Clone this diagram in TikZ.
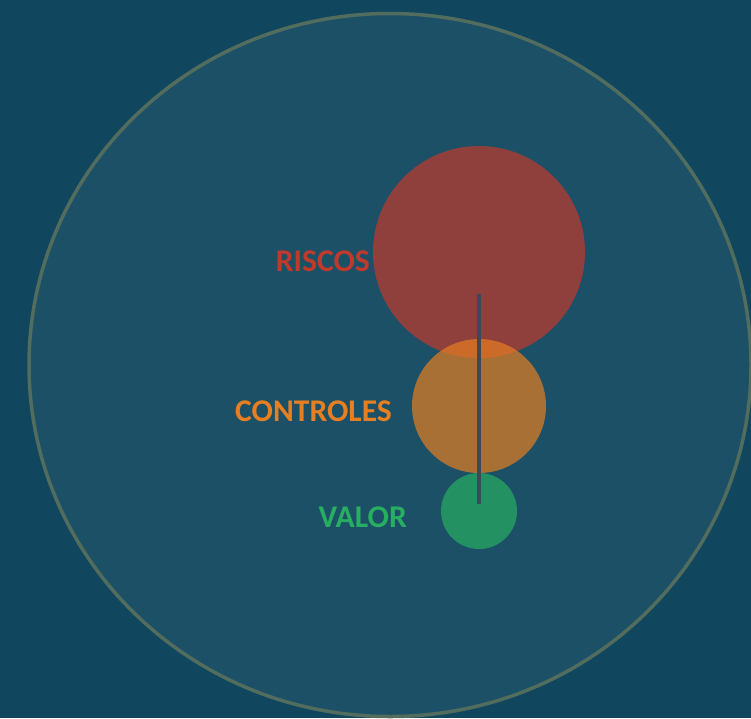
\documentclass[tikz,border=0pt]{standalone}
\usepackage{fontspec}
\setmainfont{Carlito}
\usepackage{xcolor}
\usepackage{tikz}
\usetikzlibrary{shapes.geometric}

\definecolor{bgblue}{HTML}{10475F}
\definecolor{rimgreen}{HTML}{526C5E}
\definecolor{riskred}{HTML}{C0392B}
\definecolor{ctrlorange}{HTML}{E67E22}
\definecolor{valgreen}{HTML}{27AE60}
\definecolor{stemgray}{HTML}{3B4A5A}

\begin{document}
\begin{tikzpicture}[x=1pt, y=-1pt,
    bubble/.style={circle, inner sep=0pt, fill opacity=0.7},
    tag/.style={font=\bfseries\fontsize{31.6}{36}\selectfont, anchor=east, inner sep=0pt}]

    % Background
    \fill[bgblue] (0,0) rectangle (751,718);
    \useasboundingbox (0,0) rectangle (751,718);

    % Outer ring
    \node[ellipse, draw=rimgreen, line width=3.5pt, fill=white, fill opacity=0.05,
          draw opacity=1, minimum width=722pt, minimum height=703pt, inner sep=0pt] (ring) at (390,365) {};

    % Bubbles
    \node[bubble, fill=riskred, minimum size=212pt] (riscos) at (479,252) {};
    \node[bubble, fill=ctrlorange, minimum size=134pt] (controles) at (479,406) {};
    \node[bubble, fill=valgreen, minimum size=76pt] (valor) at (479,511) {};

    % Stem
    \coordinate (stemtop) at (479,294);
    \coordinate (stembot) at (479,504);
    \draw[stemgray, line width=3.5pt] (stemtop) -- (stembot);

    % Labels
    \node[tag, text=riskred] (lriscos) at (370,261) {RISCOS};
    \node[tag, text=ctrlorange] (lcontroles) at (392,411) {CONTROLES};
    \node[tag, text=valgreen] (lvalor) at (407,517) {VALOR};
\end{tikzpicture}
\end{document}
